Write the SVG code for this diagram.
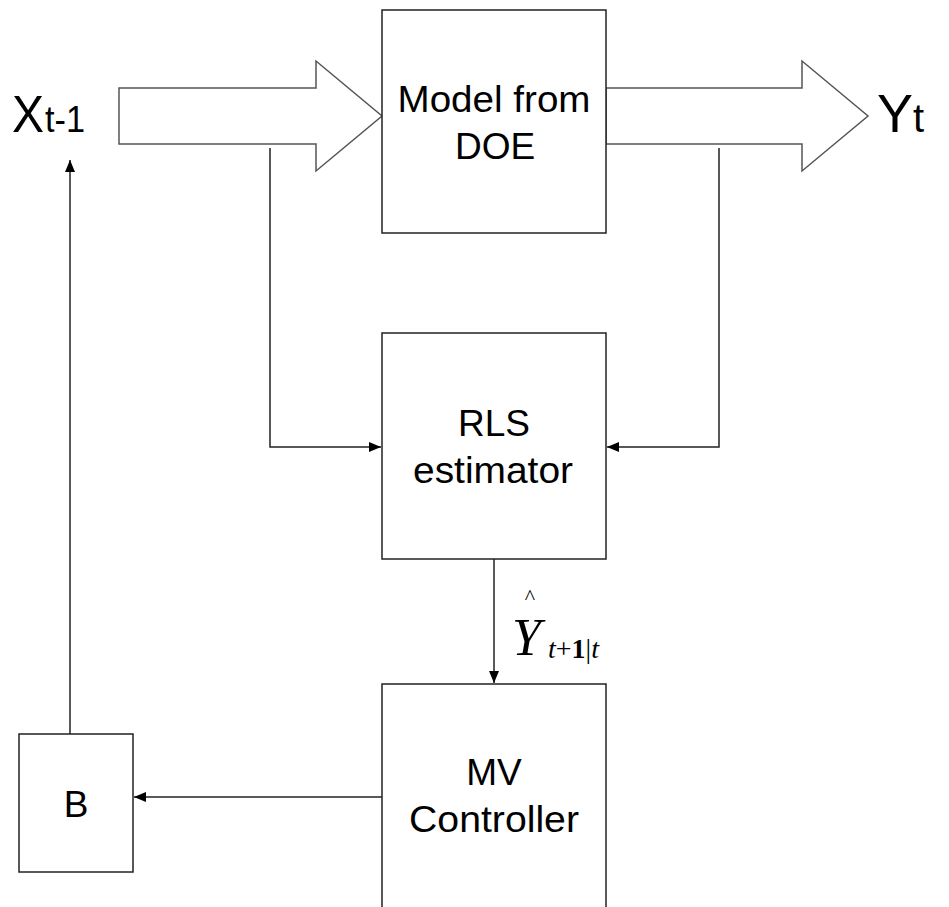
<svg xmlns="http://www.w3.org/2000/svg" width="949" height="907" viewBox="0 0 949 907">
<defs>
<style>
.box{fill:#fff;stroke:#222;stroke-width:1.5}
.big{fill:#fff;stroke:#555;stroke-width:1.5}
.ln{fill:none;stroke:#222;stroke-width:1.5}
.t{font-family:"Liberation Sans",Arial,sans-serif;font-size:37px;fill:#000;text-anchor:middle}
.s{font-family:"Liberation Sans",Arial,sans-serif;fill:#000}
.m{font-family:"Liberation Serif","Times New Roman",serif;fill:#000}
</style>
<marker id="ah" viewBox="0 0 12 10" refX="12" refY="5" markerWidth="12" markerHeight="10" markerUnits="userSpaceOnUse" orient="auto">
<path d="M0,0 L12,5 L0,10 Z" fill="#000"/>
</marker>
</defs>
<rect width="949" height="907" fill="#fff"/>
<g id="connectors">
<polygon class="big" points="119,88 316,88 316,61 382,116 316,171 316,144 119,144"/>
<polygon class="big" points="606,88 802,88 802,61 868,116 802,171 802,144 606,144"/>
<polyline class="ln" points="270,148 270,447 381,447" marker-end="url(#ah)"/>
<polyline class="ln" points="719,148 719,447 607,447" marker-end="url(#ah)"/>
<line class="ln" x1="494" y1="559" x2="494" y2="683" marker-end="url(#ah)"/>
<line class="ln" x1="382" y1="797" x2="134" y2="797" marker-end="url(#ah)"/>
<line class="ln" x1="70" y1="734" x2="70" y2="160" marker-end="url(#ah)"/>
</g>
<g id="model">
<rect class="box" x="382" y="10" width="224" height="223"/>
<text class="t" x="494" y="112" textLength="193" lengthAdjust="spacingAndGlyphs">Model from</text>
<text class="t" x="495" y="159">DOE</text>
</g>
<g id="rls">
<rect class="box" x="382" y="333" width="224" height="226"/>
<text class="t" x="494" y="436">RLS</text>
<text class="t" x="493" y="483" textLength="160" lengthAdjust="spacingAndGlyphs">estimator</text>
</g>
<g id="mv">
<rect class="box" x="382" y="684" width="224" height="240"/>
<text class="t" x="494" y="785">MV</text>
<text class="t" x="494" y="832" textLength="170" lengthAdjust="spacingAndGlyphs">Controller</text>
</g>
<g id="b">
<rect class="box" x="19" y="734" width="114" height="138"/>
<text class="t" x="76" y="817">B</text>
</g>
<g id="xin">
<text class="s" x="12" y="132" font-size="52" textLength="32" lengthAdjust="spacingAndGlyphs">X</text>
<text class="s" x="45" y="132" font-size="36" textLength="40" lengthAdjust="spacingAndGlyphs">t-1</text>
</g>
<g id="yout">
<text class="s" x="877" y="132" font-size="54">Y</text>
<text class="s" x="913" y="132" font-size="40">t</text>
</g>
<g id="yhat">
<text class="m" x="512" y="655" font-size="52" font-style="italic">Y</text>
<text class="m" x="530" y="604" font-size="22" text-anchor="middle">^</text>
<text class="m" x="548" y="658" font-size="28"><tspan font-style="italic">t</tspan><tspan>+</tspan><tspan font-weight="bold">1</tspan><tspan>|</tspan><tspan font-style="italic">t</tspan></text>
</g>
</svg>
